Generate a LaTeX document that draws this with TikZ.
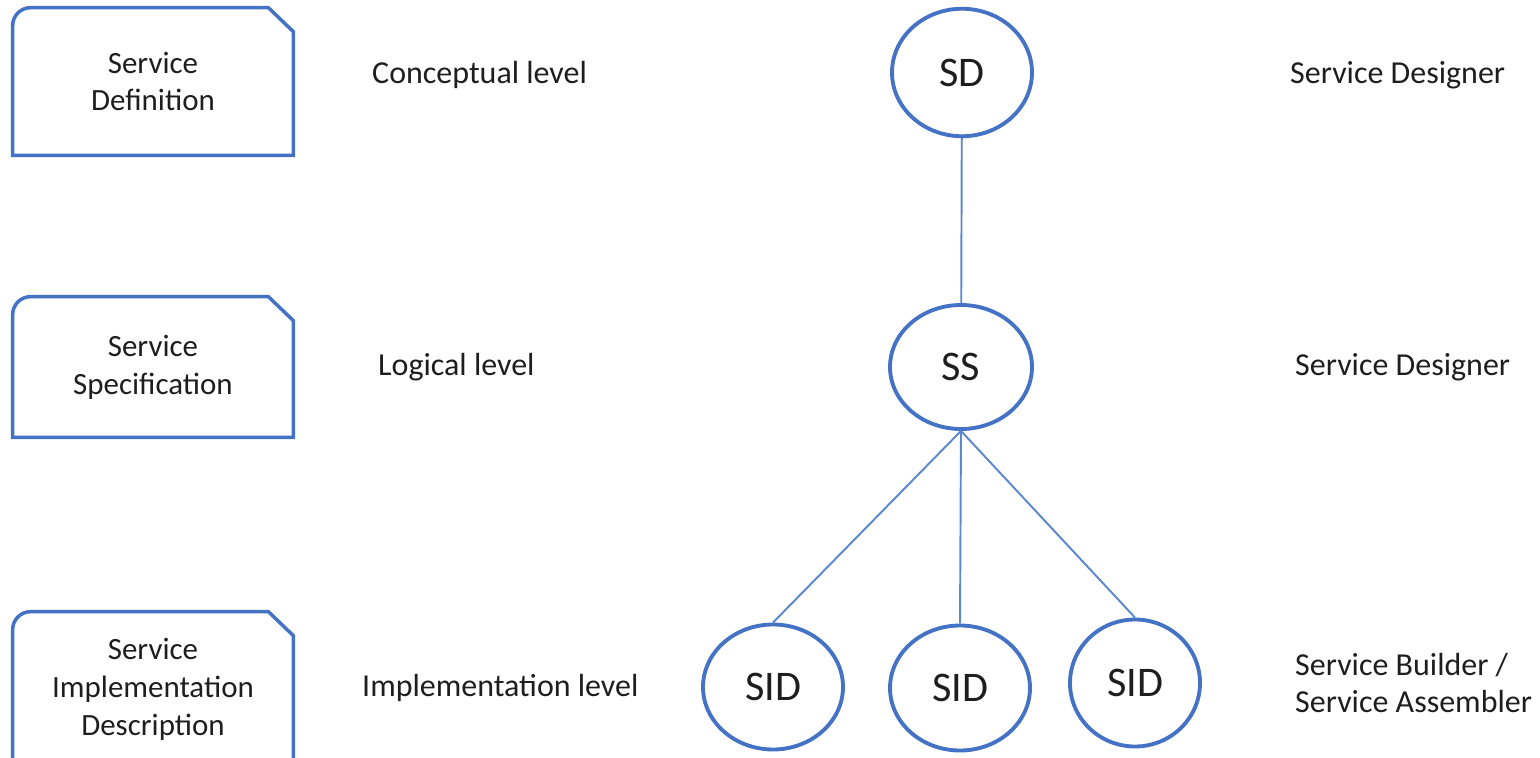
\documentclass[tikz,border=0pt]{standalone}
\usepackage{fontspec}
\setmainfont{Carlito}
\usepackage{xcolor}
\definecolor{cMain}{HTML}{4472C4}
\definecolor{cLine}{HTML}{5B87CF}
\definecolor{cText}{HTML}{1E1E1E}
\usepackage{tikz}
\usetikzlibrary{positioning,shapes.geometric}
\tikzset{
  node-level/.style={minimum width=5.6cm,align=center,text=cText,
    font=\fontsize{17.6}{21.5}\selectfont},
  node-note/.style={anchor=west,align=left,text=cText,
    font=\fontsize{18.2}{21.5}\selectfont},
  node-role/.style={draw=cMain,line width=2.2pt,ellipse,inner sep=0pt,
    minimum width=2.8cm,minimum height=2.5cm,text=cText,
    font=\fontsize{24}{28}\selectfont},
  box-edge/.style={draw=cMain,line width=2pt},
  link/.style={draw=cLine,line width=1.1pt},
}
% outline of a level box: round top-left corner, cut top-right corner
\newcommand{\levelbox}[1]{%
  \draw[box-edge] (#1.south west) -- ([yshift=-0.36cm]#1.north west)
    arc[start angle=180,end angle=90,radius=0.36cm]
    -- ([xshift=-0.5cm]#1.north east) -- ([yshift=-0.48cm]#1.north east)
    -- (#1.south east) -- cycle;}

\begin{document}
\begin{tikzpicture}
  \useasboundingbox (0,0) rectangle (30.8,-15.16);
  \clip (0,0) rectangle (30.8,-15.16);

  % levels on the left
  \node[node-level,minimum height=2.94cm] (def) at (3.06,-1.63) {Service\\Definition};
  \node[node-level,minimum height=2.8cm] (spec) at (3.06,-7.34) {Service\\Specification};
  \node[node-level,minimum height=3.1cm] (impl) at (3.06,-13.79) {Service\\Implementation\\Description};
  \levelbox{def}
  \levelbox{spec}
  \levelbox{impl}

  \node[node-note] (lvl-c) at (7.32,-1.5) {Conceptual level};
  \node[node-note] (lvl-l) at (7.44,-7.34) {Logical level};
  \node[node-note] (lvl-i) at (7.12,-13.76) {Implementation level};

  % the tree
  \node[node-role,minimum height=2.55cm] (sd) at (19.24,-1.45) {SD};
  \node[node-role,minimum width=2.84cm,minimum height=2.48cm] (ss) at (19.22,-7.34) {SS};
  \node[node-role] (sid1) at (15.46,-13.74) {SID};
  \node[node-role] (sid2) at (19.2,-13.76) {SID};
  \node[node-role,minimum width=2.6cm,minimum height=2.54cm] (sid3) at (22.7,-13.66) {SID};

  \draw[link] (sd) -- (ss);
  \draw[link] (ss.south) -- (sid1.north);
  \draw[link] (ss.south) -- (sid2.north);
  \draw[link] (ss.south) -- (sid3.north);

  % roles on the right
  \node[node-note] (who-sd) at (25.68,-1.5) {Service Designer};
  \node[node-note] (who-ss) at (25.78,-7.34) {Service Designer};
  \node[node-note] (who-sid) at (25.78,-13.66) {Service Builder /\\Service Assembler};
\end{tikzpicture}
\end{document}
